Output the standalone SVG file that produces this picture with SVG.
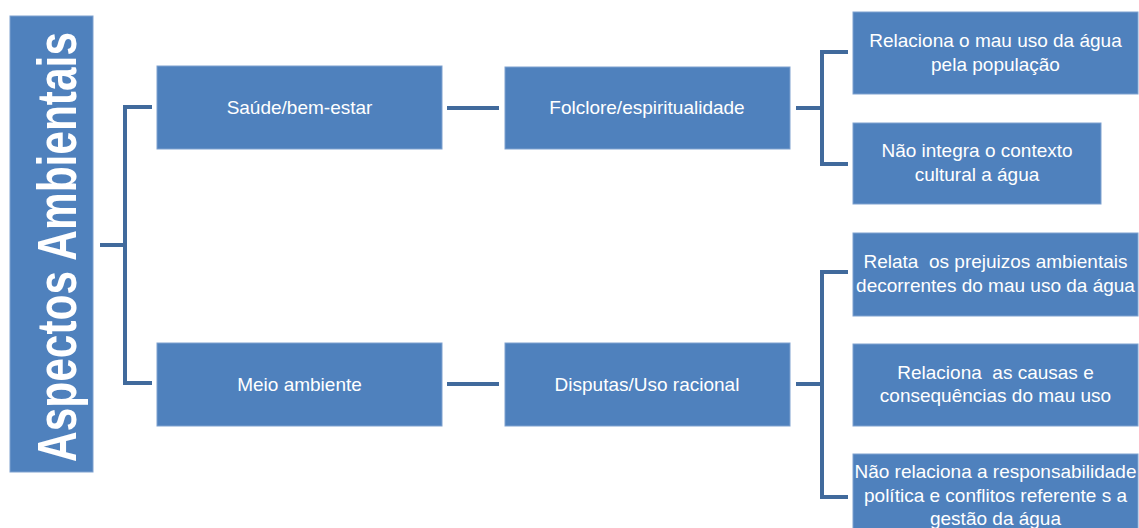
<svg xmlns="http://www.w3.org/2000/svg" width="1139" height="528" viewBox="0 0 1139 528">
<style>
.box{fill:#4F81BD;stroke:#7EA1CF;stroke-width:1}
.t{font-family:"Liberation Sans",Arial,sans-serif;font-size:19px;fill:#FFFFFF;text-anchor:middle}
.root{font-family:"Liberation Sans",Arial,sans-serif;font-size:55px;font-weight:bold;fill:#FFFFFF;text-anchor:middle}
.c{fill:none;stroke:#416A9C;stroke-width:4;stroke-linejoin:miter}
</style>
<rect width="1139" height="528" fill="#FFFFFF"/>
<g id="connectors">
<path class="c" d="M100 245 H125 M152 107 H125 V383 H152"/>
<path class="c" d="M447 108 H499"/>
<path class="c" d="M447 384 H499"/>
<path class="c" d="M796 108 H822 M848 52 H822 V164 H848"/>
<path class="c" d="M796 384 H822 M848 272 H822 V497 H848"/>
</g>
<g id="root">
<rect class="box" x="10" y="16" width="83" height="456"/>
<text class="root" transform="translate(76,247) rotate(-90)" textLength="430" lengthAdjust="spacingAndGlyphs">Aspectos Ambientais</text>
</g>
<g id="saude">
<rect class="box" x="157" y="66" width="285" height="83"/>
<text class="t" x="299.5" y="114">Saúde/bem-estar</text>
</g>
<g id="meio">
<rect class="box" x="157" y="343" width="285" height="83"/>
<text class="t" x="299.5" y="391">Meio ambiente</text>
</g>
<g id="folclore">
<rect class="box" x="505" y="67" width="285" height="82"/>
<text class="t" x="647" y="114">Folclore/espiritualidade</text>
</g>
<g id="disputas">
<rect class="box" x="505" y="343" width="285" height="83"/>
<text class="t" x="647" y="391">Disputas/Uso racional</text>
</g>
<g id="r1">
<rect class="box" x="853" y="12" width="285" height="82"/>
<text class="t" x="995.5" y="47">Relaciona o mau uso da água</text>
<text class="t" x="995.5" y="71">pela população</text>
</g>
<g id="r2">
<rect class="box" x="853" y="123" width="248" height="81"/>
<text class="t" x="977" y="157">Não integra o contexto</text>
<text class="t" x="977" y="181">cultural a água</text>
</g>
<g id="r3">
<rect class="box" x="853" y="233" width="285" height="83"/>
<text class="t" x="995.5" y="268" xml:space="preserve">Relata  os prejuizos ambientais</text>
<text class="t" x="995.5" y="292">decorrentes do mau uso da água</text>
</g>
<g id="r4">
<rect class="box" x="853" y="344" width="285" height="82"/>
<text class="t" x="995.5" y="379" xml:space="preserve">Relaciona  as causas e</text>
<text class="t" x="995.5" y="402">consequências do mau uso</text>
</g>
<g id="r5">
<rect class="box" x="853" y="454" width="285" height="80"/>
<text class="t" x="995.5" y="478">Não relaciona a responsabilidade</text>
<text class="t" x="995.5" y="502">política e conflitos referente s a</text>
<text class="t" x="995.5" y="525">gestão da água</text>
</g>
</svg>
